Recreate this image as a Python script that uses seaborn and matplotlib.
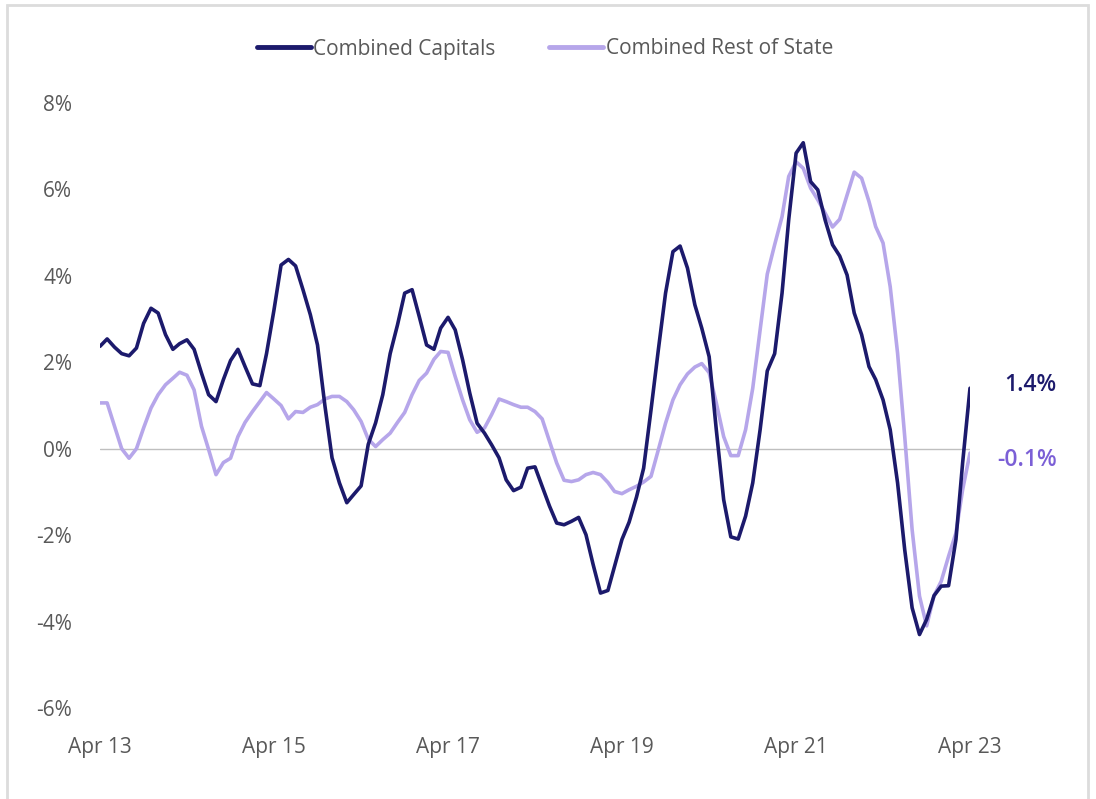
import matplotlib.pyplot as plt
import matplotlib.dates as mdates
from matplotlib.patches import Rectangle
import pandas as pd
import seaborn as sns

# Monthly annual change, Apr 2013 - Apr 2023
months = pd.date_range('2013-04-01', periods=121, freq='MS')

capitals = [
    2.37, 2.54, 2.35, 2.20, 2.15, 2.33, 2.90, 3.25, 3.14, 2.64,
    2.30, 2.43, 2.52, 2.30, 1.75, 1.25, 1.09, 1.60, 2.04, 2.30,
    1.90, 1.50, 1.46, 2.20, 3.20, 4.25, 4.38, 4.23, 3.68, 3.10,
    2.40, 1.00, -0.21, -0.79, -1.25, -1.06, -0.86, 0.10, 0.60, 1.25,
    2.20, 2.87, 3.60, 3.68, 3.06, 2.40, 2.30, 2.79, 3.04, 2.75,
    2.06, 1.29, 0.59, 0.36, 0.09, -0.21, -0.72, -0.97, -0.89, -0.45,
    -0.42, -0.87, -1.33, -1.72, -1.76, -1.68, -1.59, -1.99, -2.68, -3.34,
    -3.28, -2.72, -2.10, -1.70, -1.12, -0.45, 0.90, 2.30, 3.60, 4.56,
    4.69, 4.18, 3.33, 2.79, 2.13, 0.44, -1.18, -2.04, -2.09, -1.56,
    -0.79, 0.44, 1.80, 2.20, 3.60, 5.30, 6.84, 7.08, 6.18, 5.99,
    5.29, 4.72, 4.46, 4.02, 3.14, 2.64, 1.90, 1.60, 1.13, 0.44,
    -0.79, -2.34, -3.68, -4.30, -3.95, -3.40, -3.18, -3.17, -2.10, -0.33,
    1.40,
]

rest_of_state = [
    1.06, 1.06, 0.52, 0.00, -0.22, 0.00, 0.48, 0.94, 1.25, 1.48,
    1.63, 1.77, 1.70, 1.36, 0.52, -0.02, -0.60, -0.32, -0.22, 0.28,
    0.61, 0.86, 1.09, 1.30, 1.15, 1.00, 0.69, 0.86, 0.84, 0.96,
    1.02, 1.15, 1.21, 1.21, 1.09, 0.90, 0.63, 0.22, 0.05, 0.21,
    0.36, 0.61, 0.84, 1.25, 1.58, 1.75, 2.07, 2.25, 2.23, 1.67,
    1.13, 0.67, 0.38, 0.48, 0.79, 1.15, 1.09, 1.02, 0.96, 0.96,
    0.86, 0.69, 0.17, -0.33, -0.73, -0.76, -0.72, -0.60, -0.55, -0.60,
    -0.78, -0.99, -1.04, -0.95, -0.87, -0.77, -0.64, -0.02, 0.59, 1.13,
    1.48, 1.73, 1.89, 1.97, 1.76, 1.06, 0.28, -0.16, -0.16, 0.44,
    1.40, 2.75, 4.04, 4.72, 5.37, 6.30, 6.64, 6.49, 6.03, 5.76,
    5.45, 5.13, 5.31, 5.87, 6.40, 6.26, 5.72, 5.14, 4.76, 3.75,
    2.21, 0.28, -1.87, -3.41, -4.10, -3.40, -3.07, -2.49, -1.95, -0.95,
    -0.10,
]

series_names = ['Combined Capitals', 'Combined Rest of State']
end_labels = ['1.4%', '-0.1%']

dark = '#1c1a6c'
light = '#b6a6ea'
label_purple = '#7b5fd6'
grey_text = '#595959'

df = pd.concat([
    pd.DataFrame({'month': months, 'change': capitals, 'series': series_names[0]}),
    pd.DataFrame({'month': months, 'change': rest_of_state, 'series': series_names[1]}),
])

sns.set_style('white')
plt.rcParams['font.family'] = ['Open Sans', 'DejaVu Sans']

fig = plt.figure(figsize=(10.96, 7.99), dpi=100)
ax = fig.add_axes([100 / 1096, 1 - 708 / 799, 870 / 1096, 605 / 799])

# zero line first so the series sit on top
ax.axhline(0, color='#bfbfbf', lw=1, zorder=1)

sns.lineplot(data=df, x='month', y='change', hue='series',
             palette={series_names[0]: dark, series_names[1]: light},
             hue_order=series_names, linewidth=2.6, ax=ax, legend=False, zorder=3)
# keep the capitals line on top
ax.lines[-2].set_zorder(4)

ax.set_xlim(months[0], months[-1])
ax.set_ylim(-6, 8)
ax.set_yticks(range(-6, 9, 2))
ax.set_yticklabels(['{}%'.format(v) for v in range(-6, 9, 2)])
ax.set_xticks(pd.date_range('2013-04-01', '2023-04-01', freq='24MS'))
ax.xaxis.set_major_formatter(mdates.DateFormatter('%b %y'))
ax.tick_params(axis='y', length=0, pad=20, labelsize=15, labelcolor=grey_text)
ax.tick_params(axis='x', length=0, pad=21, labelsize=15, labelcolor=grey_text)
ax.set_xlabel('')
ax.set_ylabel('')
sns.despine(ax=ax, left=True, bottom=True)

# end-of-series value labels
ax.annotate(end_labels[0], xy=(1.0995, capitals[-1] + 0.08),
            xycoords=('axes fraction', 'data'), ha='right', va='center',
            fontsize=16.5, fontweight='semibold', color=dark, annotation_clip=False)
ax.annotate(end_labels[1], xy=(1.0995, rest_of_state[-1] - 0.15),
            xycoords=('axes fraction', 'data'), ha='right', va='center',
            fontsize=16.5, fontweight='semibold', color=label_purple, annotation_clip=False)

# legend across the top
handles = [plt.Line2D([], [], color=dark, lw=3.5), plt.Line2D([], [], color=light, lw=3.5)]
fig.legend(handles, series_names, loc='center', bbox_to_anchor=(0.497, 1 - 49 / 799),
           ncol=2, frameon=False, fontsize=15, handlelength=2.6, handletextpad=0.1,
           columnspacing=2.6, labelcolor=grey_text)

# light card border
fig.patches.append(Rectangle((7 / 1096, -0.02), 1081 / 1096, 1.0137,
                             transform=fig.transFigure, fill=False,
                             edgecolor='#dcdcdc', lw=2))

fig.savefig('out.png', dpi=100)
